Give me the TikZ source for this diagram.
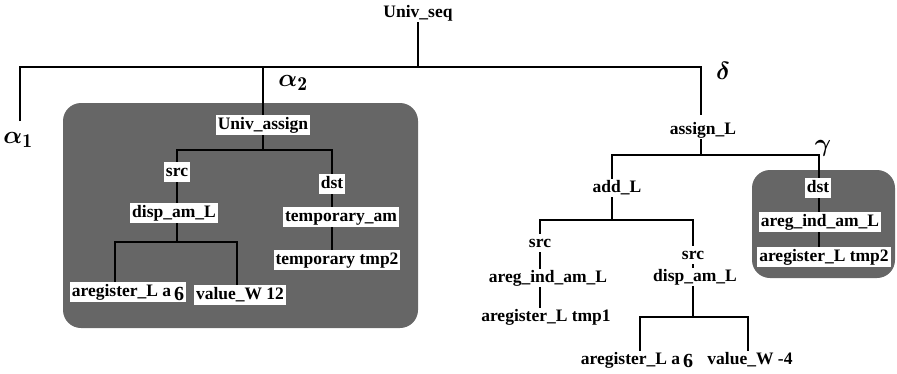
\documentclass[tikz,border=0pt]{standalone}
\usepackage{amsmath}
\usepackage{fontspec}
\newfontfamily\treefont{Liberation Serif}
\begin{document}
\begin{tikzpicture}[x=1pt,y=-1pt,
  lbl/.style={fill=white,inner sep=2pt,text height=12pt,text depth=4pt,font=\treefont\fontsize{17.5}{20}\selectfont\bfseries},
  plain/.style={inner sep=1pt,text height=12pt,text depth=4pt,font=\treefont\fontsize{17.5}{20}\selectfont\bfseries},
  greek/.style={inner sep=0pt,font=\fontsize{28}{30}\selectfont},
  conn/.style={line width=2.7pt},
  grayzone/.style={fill=black!60,draw=none,rounded corners=18pt}]
\useasboundingbox (0,0) rectangle (897,373);
% shaded zones
\path[grayzone] (63,103) rectangle (418,328);
\path[grayzone] (752,170) rectangle (895,278);
% root
\node[plain] (us) at (418,13) {Univ\_seq};
\coordinate (b1) at (20,67);
\coordinate (b2) at (263,67);
\coordinate (b3) at (701,67);
\coordinate (l1end) at (20,121);
\draw[conn] (us.south) -- (us.south |- b1);
\draw[conn] (l1end) -- (b1) -- (b3) -- ++(0,48);
\draw[conn] (b2) -- (263,115);
\node[greek] (a1) at (18,140) {$\boldsymbol{\alpha}_{\mathbf{1}}$};
\node[greek] (a2) at (293,83) {$\boldsymbol{\alpha}_{\mathbf{2}}$};
\node[greek] (dl) at (723,71) {$\boldsymbol{\delta}$};
\node[greek] (gm) at (823,148) {$\boldsymbol{\gamma}$};
% left subtree
\node[lbl] (ua) at (263,125) {Univ\_assign};
\node[lbl] (src1) at (177,172) {src};
\node[lbl] (dst1) at (332,184) {dst};
\node[lbl] (disp1) at (174,213) {disp\_am\_L};
\node[lbl] (ta) at (341,217) {temporary\_am};
\node[lbl] (tt) at (337,260) {temporary tmp2};
\node[lbl] (ra1) at (128,292) {aregister\_L a\,\raisebox{-0.5ex}{\fontsize{20}{20}\selectfont 6}};
\node[lbl] (vw1) at (240,295) {value\_W 12};
\draw[conn] (ua.south) -- (263,150) coordinate (j1);
\draw[conn] (src1.north -| 177,0) -- (177,150) -- (332,150) -- (dst1.north -| 332,0);
\draw[conn] (src1.south -| 177,0) -- (disp1.north -| 177,0);
\draw[conn] (dst1.south -| 332,0) -- (ta.north -| 332,0);
\draw[conn] (ta.south -| 332,0) -- (tt.north -| 332,0);
\draw[conn] (disp1.south -| 177,0) -- (177,242);
\draw[conn] (ra1.north -| 115,0) -- (115,242) -- (237,242) -- (vw1.north -| 237,0);
% right subtree
\node[plain] (al) at (703,130) {assign\_L};
\node[plain] (ad) at (617,188) {add\_L};
\node[lbl] (dst2) at (818,188) {dst};
\node[lbl] (ag2) at (820,222) {areg\_ind\_am\_L};
\node[lbl] (rt2) at (824,257) {aregister\_L tmp2};
\draw[conn] (al.south -| 701,0) -- (701,155);
\draw[conn] (ad.north -| 612,0) -- (612,155) -- (819,155) -- (dst2.north -| 819,0);
\draw[conn] (dst2.south -| 819,0) -- (ag2.north -| 819,0);
\draw[conn] (ag2.south -| 819,0) -- (rt2.north -| 819,0);
\node[plain] (src2) at (540,243) {src};
\node[plain] (ag1) at (548,278) {areg\_ind\_am\_L};
\node[plain] (rt1) at (546,317) {aregister\_L tmp1};
\node[plain] (src3) at (693,255) {src};
\node[plain] (disp2) at (695,277) {disp\_am\_L};
\node[plain] (ra2) at (637,360) {aregister\_L a\,\raisebox{-0.4ex}{\fontsize{20}{20}\selectfont 6}};
\node[plain] (vw2) at (750,360) {value\_W -4};
\draw[conn] (ad.south -| 612,0) -- (612,220);
\draw[conn] (src2.north -| 540,0) -- (540,220) -- (693,220) -- (src3.north -| 693,0);
\draw[conn] (src2.south -| 540,0) -- (ag1.north -| 540,0);
\draw[conn] (ag1.south -| 540,0) -- (rt1.north -| 540,0);
\draw[conn] (src3.south -| 693,0) -- (disp2.north -| 693,0);
\draw[conn] (disp2.south -| 693,0) -- (693,317);
\draw[conn] (ra2.north -| 640,0) -- (640,317) -- (748,317) -- (vw2.north -| 748,0);
\end{tikzpicture}
\end{document}
